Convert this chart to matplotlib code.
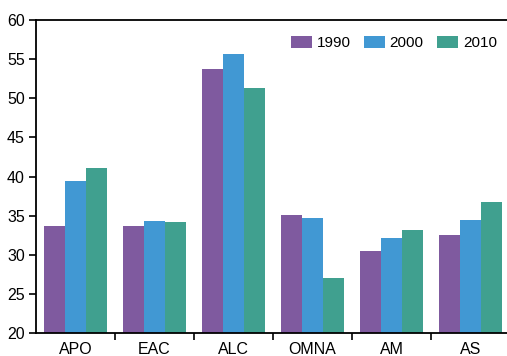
import matplotlib
matplotlib.use("Agg")
import matplotlib.pyplot as plt
import numpy as np

categories = ["APO", "EAC", "ALC", "OMNA", "AM", "AS"]
years = ["1990", "2000", "2010"]
v1990 = [33.7, 33.7, 53.8, 35.1, 30.5, 32.6]
v2000 = [39.5, 34.3, 55.6, 34.7, 32.2, 34.5]
v2010 = [41.1, 34.2, 51.3, 27.1, 33.2, 36.7]
colors = ["#7F5A9F", "#4198D3", "#40A08F"]

plt.rcParams['font.family'] = ['Liberation Sans', 'DejaVu Sans']

W, H = 507, 356
fig = plt.figure(figsize=(W/100, H/100), dpi=100)
ax = fig.add_axes([36/W, 1-333.3/H, (510-36)/W, (333.3-20)/H])

x = np.arange(len(categories))
bw = 0.262
for i, (vals, c, lab) in enumerate(zip([v1990, v2000, v2010], colors, years)):
    ax.bar(x + (i-1)*bw, np.array(vals)-20, bottom=20, width=bw, color=c, label=lab)

ax.set_ylim(20, 60)
ax.set_xlim(-0.5, len(categories)-0.5)
ax.set_yticks(range(20, 61, 5))
ax.set_xticks(x)
ax.set_xticklabels(categories)
ax.set_xticks(np.arange(0.5, len(categories)-0.5, 1), minor=True)
ax.tick_params(axis='x', which='major', length=0, pad=6, labelsize=11.5)
ax.tick_params(axis='x', which='minor', length=5, width=1.2, direction='out')
ax.tick_params(axis='y', length=5, width=1.2, direction='out', labelsize=11.5, pad=3)
for s in ['left', 'bottom', 'top']:
    ax.spines[s].set_linewidth(1.3)
ax.spines['right'].set_visible(False)

ax.legend(ncol=3, frameon=False, fontsize=11, loc='center right',
          bbox_to_anchor=(497/W, 1-43/H), bbox_transform=fig.transFigure,
          borderpad=0, borderaxespad=0,
          handlelength=1.37, handleheight=0.8, handletextpad=0.3, columnspacing=0.9)

fig.savefig("out.png", dpi=100)
